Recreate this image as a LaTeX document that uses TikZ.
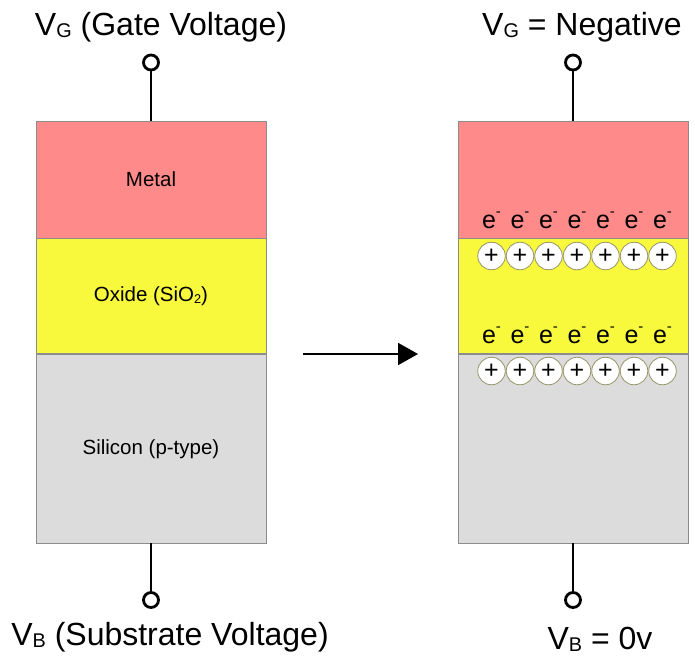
\documentclass[tikz,border=0pt]{standalone}
\usepackage{fontspec}
\setmainfont{Liberation Sans}
\usetikzlibrary{arrows.meta}

\definecolor{metalc}{RGB}{255,138,138}
\definecolor{oxidec}{RGB}{248,248,60}
\definecolor{siliconc}{RGB}{220,220,220}
\definecolor{edgec}{RGB}{140,140,140}
\definecolor{holec}{RGB}{150,150,105}

\newcommand{\lowidx}[1]{\raisebox{-0.08em}{\scalebox{0.62}{#1}}}
\newcommand{\elecsym}{e\raisebox{0.45em}{\scalebox{0.6}{-}}}

\begin{document}
\begin{tikzpicture}[x=1pt, y=-1pt,
    layer/.style={draw=edgec, line width=0.8pt, minimum width=230pt, inner sep=0pt,
      font=\fontsize{20.5}{22}\selectfont},
    term/.style={circle, draw, line width=2.8pt, fill=white, minimum size=15pt, inner sep=0pt},
    wire/.style={line width=2.8pt},
    hole/.style={circle, draw=holec, fill=white, line width=0.8pt, minimum size=27.5pt,
      inner sep=0pt, font=\fontsize{25}{25}\selectfont},
    elec/.style={anchor=base, inner sep=0pt, font=\fontsize{25}{25}\selectfont},
    biglabel/.style={anchor=base, inner sep=0pt, font=\fontsize{32}{32}\selectfont}]
            \useasboundingbox (0,0) rectangle (695,656);
            % left: the layers at rest
            \node[layer, fill=metalc, minimum height=116.5pt, anchor=north] (metalL) at (151,121) {Metal};
            \node[layer, fill=oxidec, minimum height=115pt, anchor=north] (oxideL) at (metalL.south) {Oxide (SiO\lowidx{2})};
            \node[layer, fill=siliconc, minimum height=188.5pt, anchor=north] (siL) at (oxideL.south) {Silicon (p-type)};
            % right: negative gate
            \node[layer, fill=metalc, minimum height=116.5pt, anchor=north] (metalR) at (573,121) {};
            \node[layer, fill=oxidec, minimum height=115pt, anchor=north] (oxideR) at (metalR.south) {};
            \node[layer, fill=siliconc, minimum height=188.5pt, anchor=north] (siR) at (oxideR.south) {};
            % terminals
            \node[term] (gateL) at (151,62.5) {};
            \node[term] (bulkL) at (151,600) {};
            \node[term] (gateR) at (573,62.5) {};
            \node[term] (bulkR) at (573,600) {};
            \draw[wire] (gateL) -- (metalL.north);
            \draw[wire] (bulkL) -- (siL.south);
            \draw[wire] (gateR) -- (metalR.north);
            \draw[wire] (bulkR) -- (siR.south);
            \node[biglabel] (vgL) at (161,35) {V\lowidx{G} (Gate Voltage)};
            \node[biglabel] (vbL) at (170,645) {V\lowidx{B} (Substrate Voltage)};
            \node[biglabel] (vgR) at (582,35) {V\lowidx{G} = Negative};
            \node[biglabel] (vbR) at (600,649) {V\lowidx{B} = 0v};
            % charges
            \foreach \i in {0,...,6} {
                \pgfmathsetmacro{\cx}{491.5+28.5*\i}
                \node[elec] (eTop\i) at (\cx,228) {\elecsym};
                \node[hole] (hTop\i) at (\cx,256) {+};
                \node[elec] (eBot\i) at (\cx,343) {\elecsym};
                \node[hole] (hBot\i) at (\cx,371) {+};
            }
            % arrow between the two states
            \coordinate (arrS) at (303,354);
            \coordinate (arrE) at (418,354);
            \draw[line width=2pt, -{Triangle[length=20pt,width=22pt]}] (arrS) -- (arrE);
        \end{tikzpicture}
\end{document}
